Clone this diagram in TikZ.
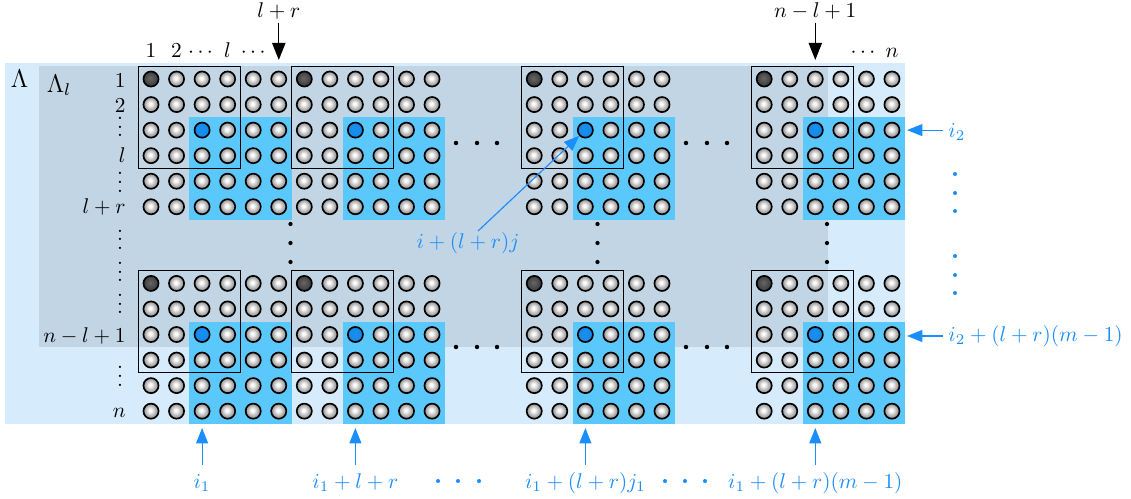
\documentclass[tikz,border=0pt]{standalone}
\usetikzlibrary{arrows.meta}

\definecolor{lamout}{HTML}{D6EBFC}
\definecolor{lamin}{HTML}{C2D5E4}
\definecolor{blockcyan}{HTML}{5AC8FA}
\definecolor{accent}{HTML}{1A8EFA}
\definecolor{bluehi}{HTML}{1890F0}
\definecolor{bluelo}{HTML}{0560C0}

% shaded balls for the lattice sites
\pgfdeclareradialshading{pearl}{\pgfpoint{-3bp}{3bp}}{color(0bp)=(white); color(4bp)=(white); color(18bp)=(black!32); color(32bp)=(black!55); color(50bp)=(black!72)}
\pgfdeclareradialshading{darkpearl}{\pgfpoint{-3bp}{3bp}}{color(0bp)=(black!60); color(15bp)=(black!70); color(50bp)=(black!95)}
\pgfdeclareradialshading{bluepearl}{\pgfpoint{-3bp}{3bp}}{color(0bp)=(bluehi); color(22bp)=(bluehi!85!bluelo); color(50bp)=(bluelo)}

\tikzset{
  site/.style={circle, draw=black, line width=0.78pt, inner sep=0pt, minimum size=7.1pt, shading=pearl},
  darksite/.style={site, shading=darkpearl},
  bluesite/.style={site, shading=bluepearl},
  window/.style={draw=black, line width=0.6pt},
  lbl/.style={inner sep=0pt},
  bluelbl/.style={lbl, text=accent},
  downarrow/.style={line width=0.6pt, -{Triangle[length=8pt,width=6.2pt]}},
  bluearrow/.style={accent, line width=0.55pt, -{Triangle[length=7.2pt,width=5.6pt]}},
  blackdot/.style={fill=black},
  bluedot/.style={fill=accent},
}

\begin{document}
\begin{tikzpicture}[x=0.47pt,y=-0.47pt]
\def\pp{25.55}
\def\hp{12.775}
\useasboundingbox (0,0) rectangle (1131,498);

% the regions Lambda and Lambda_l
\fill[lamout] (5,63) rectangle (904.7,424.1);
\fill[lamin] (39,66.2) rectangle (828.1,347.3);

% shaded sub-blocks
\foreach \s in {0,6,15,24}{\foreach \t in {0,8}{
  \fill[blockcyan] ({151+(\s+2)*\pp-\hp},{79+(\t+2)*\pp-\hp}) rectangle ({151+(\s+5)*\pp+\hp},{79+(\t+5)*\pp+\hp});
}}

% lattice sites
\foreach \s in {0,6,15,24}{\foreach \t in {0,8}{
  \foreach \k in {0,...,5}{\foreach \j in {0,...,5}{
    \pgfmathtruncatemacro\c{\s+\k}
    \pgfmathtruncatemacro\r{\t+\j}
    \pgfmathtruncatemacro\kind{(\k==0 && \j==0) ? 1 : ((\k==2 && \j==2) ? 2 : 0)}
    \ifcase\kind \def\sty{site}\or \def\sty{darksite}\or \def\sty{bluesite}\fi
    \node[\sty] (c\c-\r) at ({151+\c*\pp},{79+\r*\pp}) {};
  }}
}}

% windows of size l x l
\foreach \s in {0,6,15,24}{\foreach \t in {0,8}{
  \draw[window] ({151+\s*\pp-\hp},{79+\t*\pp-\hp}) rectangle ({151+(\s+3)*\pp+\hp},{79+(\t+3)*\pp+\hp});
}}

% horizontal dots between blocks
\foreach \y in {143,347}{
  \foreach \x in {456,477,497,686,707,727}{
    \fill[blackdot] (\x,\y) circle[radius=1.05pt];
  }
}
% vertical dots between the two rows of blocks
\foreach \x in {290.5,597.5,827}{
  \foreach \y in {224,243,262}{
    \fill[blackdot] (\x,\y) circle[radius=1.0pt];
  }
}

% region names
\node[lbl, anchor=base, font=\large] (Lam) at (19.5,87.5) {$\Lambda$};
\node[lbl, anchor=base west, font=\large] (Laml) at (46.5,92) {$\Lambda_l$};

% row indices
\node[lbl, anchor=base east] (row1) at (126,87) {$1$};
\node[lbl, anchor=base east] (row2) at (126,112) {$2$};
\node[lbl, anchor=base] (rv1) at (120,136.8) {$\smash{\vdots}$};
\node[lbl, anchor=base east] (rowl) at (126,162) {$l$};
\node[lbl, anchor=base] (rv2) at (120,192) {$\smash{\vdots}$};
\node[lbl, anchor=base east] (rowlr) at (126,213) {$l+r$};
\node[lbl, anchor=base] (rv3) at (120,249.4) {$\smash{\vdots}$};
\node[lbl, anchor=base] (rv4) at (120,281.8) {$\smash{\vdots}$};
\node[lbl, anchor=base] (rv5) at (120,313.8) {$\smash{\vdots}$};
\node[lbl, anchor=base east] (rownl) at (126,342) {$n-l+1$};
\node[lbl, anchor=base] (rv6) at (120,386) {$\smash{\vdots}$};
\node[lbl, anchor=base east] (rown) at (126,417) {$n$};

% column indices
\node[lbl, anchor=base] (col1) at (151,57) {$1$};
\node[lbl, anchor=base] (col2) at (176.5,57) {$2$};
\node[lbl, anchor=base] (ch1) at (200.5,57) {$\cdots$};
\node[lbl, anchor=base] (coll) at (227.6,57) {$l$};
\node[lbl, anchor=base] (ch2) at (253.2,57) {$\cdots$};
\node[lbl, anchor=base] (ch3) at (863,57) {$\cdots$};
\node[lbl, anchor=base] (coln) at (891.9,57) {$n$};

% marked columns
\node[lbl, anchor=base] (toplr) at (278.8,17) {$l+r$};
\coordinate (lrtail) at (278.8,22.5);
\coordinate (lrtip) at (278.8,60);
\draw[downarrow] (lrtail) -- (lrtip);
\node[lbl, anchor=base] (topnl) at (815.3,17) {$n-l+1$};
\coordinate (nltail) at (815.3,22.5);
\coordinate (nltip) at (815.3,60);
\draw[downarrow] (nltail) -- (nltip);

% row markers on the right
\node[bluelbl, anchor=base west] (ii2) at (948,137) {$i_2$};
\coordinate (ii2tail) at (943,130.1);
\coordinate (ii2tip) at (907,130.1);
\draw[bluearrow] (ii2tail) -- (ii2tip);
\node[bluelbl, anchor=base west] (ii2m) at (948,341) {$i_2+(l+r)(m-1)$};
\coordinate (ii2mtail) at (943,336);
\coordinate (ii2mtip) at (907,336);
\draw[bluearrow] (ii2mtail) -- (ii2mtip);
\foreach \y in {174,193,211,256,275,293}{
  \fill[bluedot] (955,\y) circle[radius=0.95pt];
}

% column markers below
\node[bluelbl, anchor=base] (ii1) at (202.1,488) {$i_1$};
\node[bluelbl, anchor=base] (ii1a) at (355.4,488) {$i_1+l+r$};
\node[bluelbl, anchor=base] (ii1b) at (585.4,488) {$i_1+(l+r)j_1$};
\node[bluelbl, anchor=base] (ii1c) at (815.3,488) {$i_1+(l+r)(m-1)$};
\foreach \x [count=\n] in {202.1,355.4,585.4,815.3}{
  \coordinate (bt\n) at (\x,465);
  \coordinate (bh\n) at (\x,428);
  \draw[bluearrow] (bt\n) -- (bh\n);
}
\foreach \x in {438,458,479,665,685,705}{
  \fill[bluedot] (\x,481) circle[radius=0.95pt];
}

% a generic site
\node[bluelbl, anchor=base] (gen) at (468,248) {$i+(l+r)j$};
\coordinate (gentail) at (478,231);
\draw[bluearrow] (gentail) -- (c17-2);
\end{tikzpicture}
\end{document}
